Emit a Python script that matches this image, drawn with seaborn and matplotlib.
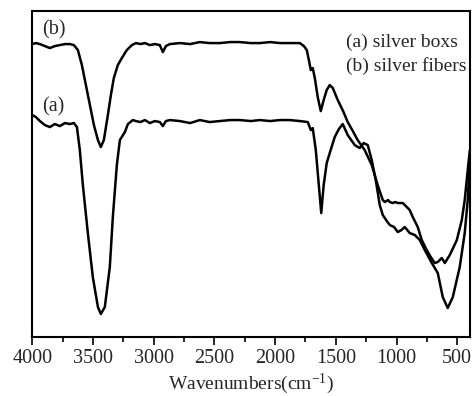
import numpy as np
import pandas as pd
import matplotlib
matplotlib.use("Agg")
import matplotlib.pyplot as plt
from matplotlib.ticker import MultipleLocator
import seaborn as sns

sns.set_style("ticks")
plt.rcParams['font.family'] = ['Liberation Serif', 'DejaVu Serif']
plt.rcParams['mathtext.fontset'] = 'custom'
plt.rcParams['mathtext.rm'] = 'Liberation Serif'
plt.rcParams['mathtext.it'] = 'Liberation Serif:italic'

# (b) silver fibers - wavenumber (cm-1) and transmittance (a.u.)
wn_b = [4000, 3971, 3938, 3897, 3856, 3815, 3773, 3732, 3691, 3658, 3625, 3592,
        3559, 3526, 3493, 3460, 3436, 3411, 3378, 3353, 3329, 3296, 3263, 3222,
        3180, 3147, 3110, 3073, 3032, 2991, 2950, 2925, 2900, 2867, 2785, 2700,
        2620, 2540, 2456, 2370, 2291, 2200, 2126, 2040, 1961, 1880, 1796, 1763,
        1739, 1722, 1706, 1690, 1673, 1649, 1624, 1600, 1575, 1550, 1525, 1484,
        1440, 1402, 1360, 1320, 1262, 1204, 1155, 1113, 1096, 1070, 1055, 1031,
        1010, 989, 948, 891, 866, 825, 792, 751, 718, 685, 660, 627, 602, 561,
        503, 462, 438, 413, 396]
tr_b = [293, 294, 293, 291, 289, 291, 292, 293, 293, 292, 287, 272,
        252, 232, 212, 197, 190, 197, 222, 242, 259, 272, 279, 287,
        292, 294, 293, 294, 292, 293, 292, 285, 291, 293, 294, 293,
        295, 294, 294, 295, 295, 294, 294, 295, 294, 294, 294, 291,
        287, 277, 267, 269, 259, 240, 226, 237, 247, 252, 249, 237,
        226, 215, 206, 197, 187, 172, 152, 137, 135, 137, 135, 134,
        135, 134, 134, 127, 120, 110, 97, 87, 80, 74, 75, 79, 74, 82,
        97, 117, 137, 167, 187]

# (a) silver boxs
wn_a = [4000, 3971, 3938, 3897, 3856, 3815, 3773, 3732, 3691, 3658, 3633, 3609,
        3584, 3543, 3502, 3460, 3436, 3403, 3362, 3337, 3304, 3279, 3238, 3213,
        3172, 3147, 3110, 3073, 3032, 2991, 2950, 2925, 2900, 2867, 2785, 2700,
        2620, 2540, 2456, 2370, 2291, 2200, 2126, 2040, 1961, 1880, 1796, 1731,
        1706, 1690, 1665, 1640, 1620, 1600, 1575, 1550, 1509, 1475, 1443, 1402,
        1344, 1303, 1270, 1237, 1204, 1171, 1138, 1113, 1080, 1055, 1020, 989,
        960, 932, 891, 849, 808, 767, 709, 660, 619, 578, 536, 479, 438, 413, 396]
tr_a = [222, 220, 216, 212, 210, 213, 211, 214, 213, 214, 210, 187,
        152, 104, 60, 30, 23, 30, 70, 120, 172, 197, 205, 213,
        217, 216, 215, 217, 214, 216, 215, 211, 216, 217, 216, 214,
        217, 215, 216, 217, 217, 216, 217, 216, 217, 217, 216, 215,
        207, 209, 187, 152, 124, 152, 174, 184, 200, 208, 213, 202,
        192, 189, 194, 192, 177, 157, 132, 122, 116, 112, 110, 105,
        107, 110, 104, 102, 97, 87, 74, 64, 40, 29, 40, 70, 104, 137, 177]

df = pd.concat([
    pd.DataFrame({"Wavenumber": wn_a, "T": tr_a, "sample": "a"}),
    pd.DataFrame({"Wavenumber": wn_b, "T": tr_b, "sample": "b"}),
])

fig = plt.figure(figsize=(4.76, 3.96), dpi=100)
ax = fig.add_axes([0.068, 0.149, 0.919, 0.823])

sns.lineplot(data=df, x="Wavenumber", y="T", units="sample", estimator=None,
             color="black", linewidth=1.8, sort=False, legend=False, ax=ax)

ax.set_xlim(4000, 396)
ax.set_ylim(0, 326)
ax.xaxis.set_major_locator(MultipleLocator(500))
ax.xaxis.set_minor_locator(MultipleLocator(250))
ax.set_yticks([])
ax.set_ylabel("")
ax.tick_params(axis="x", which="major", direction="out", length=6, width=1.4,
               labelsize=14.5, pad=3)
ax.tick_params(axis="x", which="minor", direction="out", length=3.5, width=1.4)
for s in ax.spines.values():
    s.set_linewidth(1.5)
    s.set_color("black")

ax.set_xlabel("Wavenumbers(cm$^{-1}$)", fontsize=14, labelpad=2)

ax.text(3920, 298, "(b)", fontsize=14.5, ha="left", va="bottom")
ax.text(3920, 221, "(a)", fontsize=14.5, ha="left", va="bottom")
ax.text(1420, 295, "(a) silver boxs", fontsize=14, ha="left", va="center")
ax.text(1420, 271, "(b) silver fibers", fontsize=14, ha="left", va="center")

fig.savefig("out.png", dpi=100)
